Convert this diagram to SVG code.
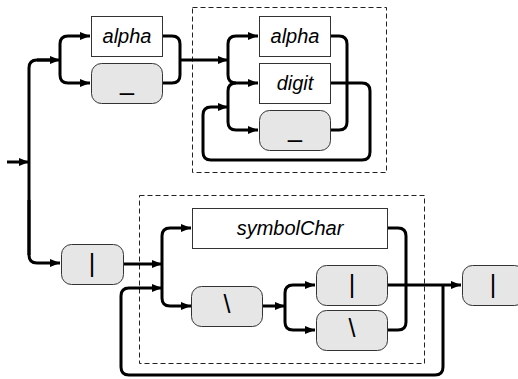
<svg xmlns="http://www.w3.org/2000/svg" width="518" height="379" viewBox="0 0 518 379">
<style>
.nt rect{fill:#fff;stroke:#333;stroke-width:1}
.t rect{fill:#e6e6e6;stroke:#333;stroke-width:1}
.nt text{font-family:"Liberation Sans",Arial,sans-serif;font-style:italic;font-size:20px;text-anchor:middle;fill:#000}
.t text{font-family:"Liberation Sans",Arial,sans-serif;font-size:25px;text-anchor:middle;fill:#000}
.grp{fill:none;stroke:#222;stroke-width:1;stroke-dasharray:5,3}
#connectors path{fill:none;stroke:#000;stroke-width:3}
.a{marker-end:url(#arr)}
</style>
<defs>
<marker id="arr" markerUnits="userSpaceOnUse" markerWidth="11" markerHeight="9" refX="10" refY="4" orient="auto">
<path d="M0,0 L10,4 L0,8 z" fill="#000"/>
</marker>
</defs>
<rect class="grp" x="192.5" y="7.5" width="194" height="165"/>
<rect class="grp" x="139.5" y="195.5" width="285" height="168"/>
<g id="connectors">
<path class="a" d="M7,162 H29"/>
<path d="M29,255 V68 Q29,60 37,60 H52"/>
<path class="a" d="M37,60 H60"/>
<path class="a" d="M29,200 V255 Q29,263 37,263 H60"/>
<path class="a" d="M60,60 V44 Q60,36 68,36 H90"/>
<path class="a" d="M60,60 V75 Q60,83 68,83 H90"/>
<path d="M162,36 H172 Q180,36 180,44 V75 Q180,83 172,83 H162"/>
<path class="a" d="M180,60 H228"/>
<path class="a" d="M228,60 V44 Q228,36 236,36 H258"/>
<path class="a" d="M228,60 V75 Q228,83 236,83 H258"/>
<path class="a" d="M236,83 Q228,83 228,91 V122 Q228,130 236,130 H258"/>
<path d="M330,36 H339 Q347,36 347,44 V122 Q347,130 339,130 H330"/>
<path class="a" d="M330,83 H362 Q370,83 370,91 V152 Q370,160 362,160 H211 Q203,160 203,152 V115 Q203,107 211,107 H228"/>
<path class="a" d="M123,264 H162"/>
<path class="a" d="M162,264 V236 Q162,228 170,228 H191"/>
<path class="a" d="M162,264 V298 Q162,306 170,306 H191"/>
<path class="a" d="M262,306 H285"/>
<path class="a" d="M285,306 V293 Q285,285 293,285 H315"/>
<path class="a" d="M285,306 V322 Q285,330 293,330 H315"/>
<path d="M387,228 H398 Q406,228 406,236 V322 Q406,330 398,330 H387"/>
<path class="a" d="M387,285 H461"/>
<path class="a" d="M443,285 V367 Q443,375 435,375 H129 Q121,375 121,367 V296 Q121,288 129,288 H162"/>
</g>
<g id="alpha1" class="nt"><rect x="91.5" y="16.5" width="71" height="40"/><text x="127" y="43">alpha</text></g>
<g id="under1" class="t"><rect x="91.5" y="63.5" width="71" height="40" rx="10"/><text x="127" y="90">_</text></g>
<g id="alpha2" class="nt"><rect x="259.5" y="16.5" width="71" height="40"/><text x="295" y="43">alpha</text></g>
<g id="digit" class="nt"><rect x="259.5" y="63.5" width="71" height="40"/><text x="295" y="90">digit</text></g>
<g id="under2" class="t"><rect x="259.5" y="110.5" width="71" height="40" rx="10"/><text x="295" y="137">_</text></g>
<g id="pipe1" class="t"><rect x="61.5" y="244.5" width="62" height="40" rx="10"/><text x="92" y="272">|</text></g>
<g id="symbolChar" class="nt"><rect x="192.5" y="208.5" width="195" height="40"/><text x="290" y="235">symbolChar</text></g>
<g id="bslash1" class="t"><rect x="191.5" y="286.5" width="71" height="40" rx="10"/><text x="227" y="313">\</text></g>
<g id="pipe2" class="t"><rect x="316.5" y="265.5" width="71" height="40" rx="10"/><text x="352" y="293">|</text></g>
<g id="bslash2" class="t"><rect x="316.5" y="310.5" width="71" height="40" rx="10"/><text x="352" y="337">\</text></g>
<g id="pipe3" class="t"><rect x="462.5" y="265.5" width="62" height="40" rx="10"/><text x="493" y="293">|</text></g>
</svg>
